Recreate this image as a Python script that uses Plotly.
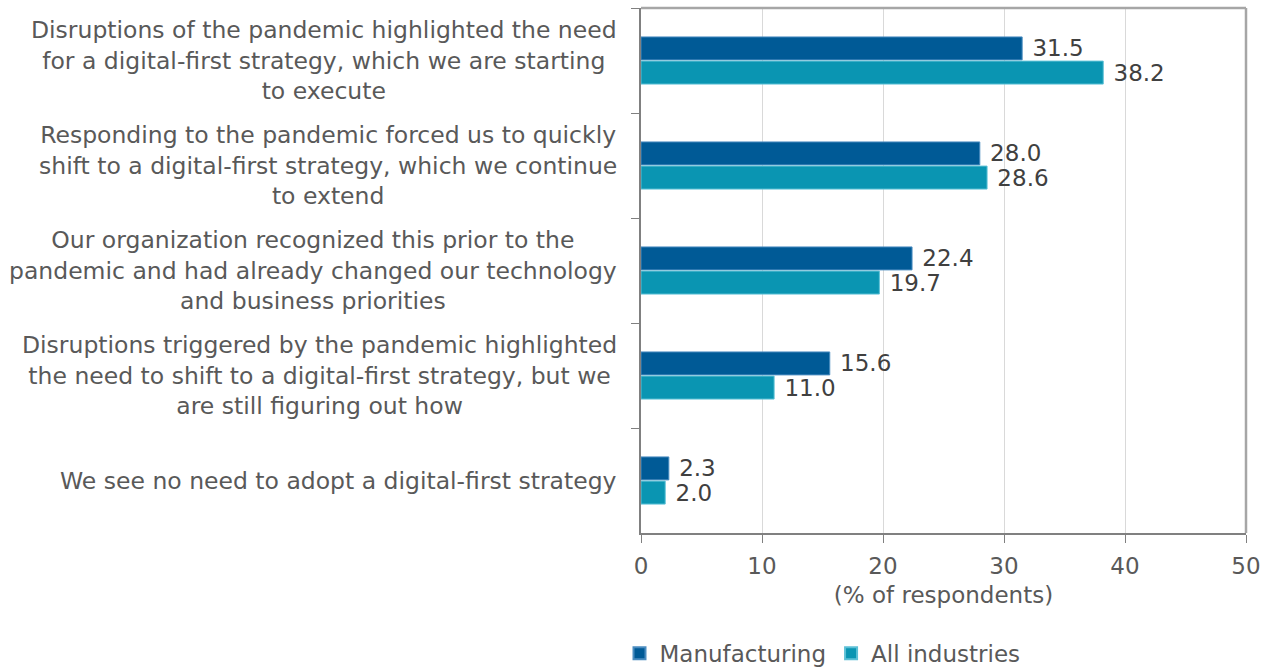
import plotly.graph_objects as go

categories = [
    "Disruptions of the pandemic highlighted the need<br>for a digital-first strategy, which we are starting<br>to execute",
    "Responding to the pandemic forced us to quickly<br>shift to a digital-first strategy, which we continue<br>to extend",
    "Our organization recognized this prior to the<br>pandemic and had already changed our technology<br>and business priorities",
    "Disruptions triggered by the pandemic highlighted<br>the need to shift to a digital-first strategy, but we<br>are still figuring out how",
    "We see no need to adopt a digital-first strategy",
]
manufacturing = [31.5, 28.0, 22.4, 15.6, 2.3]
all_industries = [38.2, 28.6, 19.7, 11.0, 2.0]
x_ticks = [0, 10, 20, 30, 40, 50]

FONT = "DejaVu Sans"
LABEL_COLOR = "#595959"
VALUE_COLOR = "#404040"
FS_CAT = 23.5
FS = 23

fig = go.Figure()
fig.add_trace(go.Bar(
    y=categories, x=manufacturing, orientation="h", name="Manufacturing",
    marker=dict(color="#005A96", line=dict(color="#4A8CC0", width=1)),
    text=manufacturing, texttemplate="\u00a0%{x:.1f}", textposition="outside",
    textfont=dict(family=FONT, size=FS, color=VALUE_COLOR), cliponaxis=False,
    constraintext="none",
))
fig.add_trace(go.Bar(
    y=categories, x=all_industries, orientation="h", name="All industries",
    marker=dict(color="#0A95B2", line=dict(color="#5CC0D6", width=1)),
    text=all_industries, texttemplate="\u00a0%{x:.1f}", textposition="outside",
    textfont=dict(family=FONT, size=FS, color=VALUE_COLOR), cliponaxis=False,
    constraintext="none",
))

for c in categories:
    fig.add_annotation(
        x=0, xref="paper", y=c, yref="y", xanchor="right", yanchor="middle",
        xshift=-22, text=c, showarrow=False, align="center",
        font=dict(family=FONT, size=FS_CAT, color=LABEL_COLOR),
    )

fig.update_layout(
    width=1270, height=669,
    margin=dict(l=641, r=24, t=8, b=136, autoexpand=False),
    paper_bgcolor="white", plot_bgcolor="white",
    barmode="group", bargap=0.54, bargroupgap=0.05,
    font=dict(family=FONT, size=FS, color=LABEL_COLOR),
    showlegend=True,
    legend=dict(orientation="h", x=0.3, xanchor="center", y=-0.229, yanchor="middle",
                font=dict(family=FONT, size=FS, color=LABEL_COLOR),
                itemsizing="constant", traceorder="normal"),
    xaxis=dict(
        range=[0, 50], tickvals=x_ticks, ticks="outside", ticklen=8, tickcolor="#808080",
        showgrid=True, gridcolor="#D9D9D9", gridwidth=1,
        showline=True, linecolor="#808080", linewidth=2, mirror=False,
        tickfont=dict(family=FONT, size=FS, color=LABEL_COLOR),
        ticklabelstandoff=3,
        title=dict(text="(% of respondents)", standoff=9,
                   font=dict(family=FONT, size=FS, color=LABEL_COLOR)),
        zeroline=False,
    ),
    yaxis=dict(
        autorange="reversed", showticklabels=False, ticks="outside", tickson="boundaries",
        ticklen=8, tickcolor="#808080",
        showline=True, linecolor="#808080", linewidth=2, showgrid=False,
    ),
)
# top and right frame
fig.add_shape(type="line", xref="paper", yref="paper", x0=0, x1=1, y0=1, y1=1,
              line=dict(color="#A6A6A6", width=2.5))
fig.add_shape(type="line", xref="paper", yref="paper", x0=1, x1=1, y0=0, y1=1,
              line=dict(color="#A6A6A6", width=2.5))

fig.write_html("out.html")
